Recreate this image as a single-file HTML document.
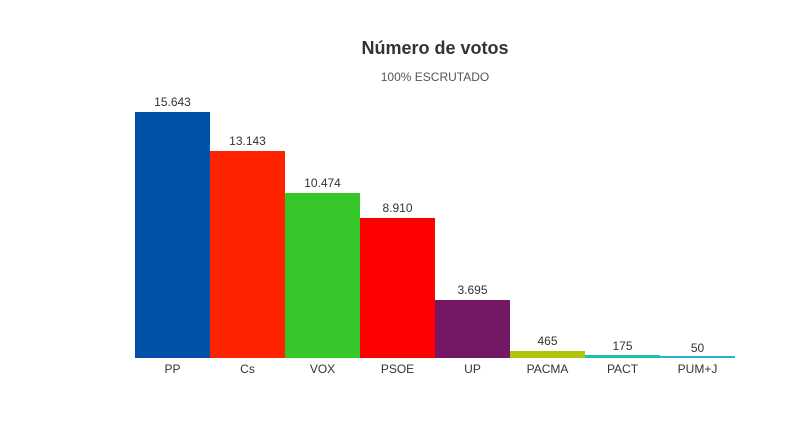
<!DOCTYPE html><html><head><style>
body{margin:0;width:810px;height:421px;background:#fff;position:relative;font-family:"Liberation Sans",Arial,sans-serif;overflow:hidden}
.b{position:absolute;width:75px}
.v,.l{position:absolute;width:75px;text-align:center;font-size:12px;color:#333}
</style></head><body>
<div style="position:absolute;left:0;width:870px;top:38px;text-align:center;font-size:18px;font-weight:bold;color:#333">Número de votos</div>
<div style="position:absolute;left:0;width:870px;top:70px;text-align:center;font-size:12px;color:#555">100% ESCRUTADO</div>
<div class="b" style="left:135px;top:112px;height:246px;background:#0051a8"></div>
<div class="b" style="left:210px;top:151px;height:207px;background:#ff2400"></div>
<div class="b" style="left:285px;top:193px;height:165px;background:#36c82a"></div>
<div class="b" style="left:360px;top:218px;height:140px;background:#ff0000"></div>
<div class="b" style="left:435px;top:300px;height:58px;background:#741865"></div>
<div class="b" style="left:510px;top:351px;height:7px;background:#afc50b"></div>
<div class="b" style="left:585px;top:355px;height:3px;background:#1ec0a9"></div>
<div class="b" style="left:660px;top:356px;height:2px;background:#27b3cf"></div>
<div class="v" style="left:135px;top:95px">15.643</div>
<div class="v" style="left:210px;top:134px">13.143</div>
<div class="v" style="left:285px;top:176px">10.474</div>
<div class="v" style="left:360px;top:201px">8.910</div>
<div class="v" style="left:435px;top:283px">3.695</div>
<div class="v" style="left:510px;top:334px">465</div>
<div class="v" style="left:585px;top:339px">175</div>
<div class="v" style="left:660px;top:341px">50</div>
<div class="l" style="left:135px;top:362px">PP</div>
<div class="l" style="left:210px;top:362px">Cs</div>
<div class="l" style="left:285px;top:362px">VOX</div>
<div class="l" style="left:360px;top:362px">PSOE</div>
<div class="l" style="left:435px;top:362px">UP</div>
<div class="l" style="left:510px;top:362px">PACMA</div>
<div class="l" style="left:585px;top:362px">PACT</div>
<div class="l" style="left:660px;top:362px">PUM+J</div>
</body></html>
